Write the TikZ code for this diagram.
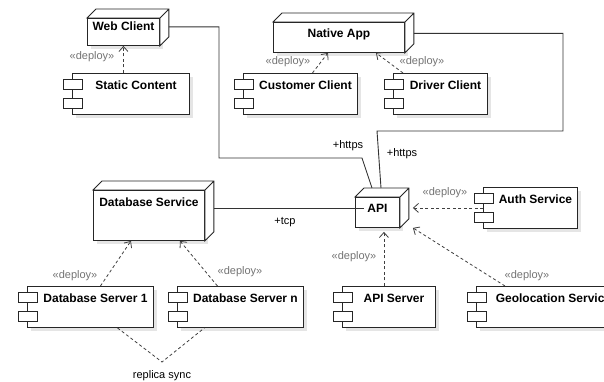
\documentclass[tikz,border=0pt]{standalone}
\usepackage{fontspec}
\setmainfont{Liberation Sans}
\usetikzlibrary{arrows.meta,shadows}

\begin{document}
\begin{tikzpicture}
[x=1pt,y=1pt,line join=miter,
every node/.style={font=\fontsize{11}{13}\selectfont},
device/.style={shape=rectangle,draw=black!85,line width=0.9pt,fill=white,inner sep=0pt,anchor=north west,
	text height=15pt,text depth=15pt,font=\fontsize{12}{14}\selectfont\bfseries,
	drop shadow={shadow xshift=4pt,shadow yshift=-4pt,fill=black!10,opacity=1}},
comp/.style={device,minimum height=41pt,text height=16pt,text depth=25pt,execute at begin node={\hspace*{10pt}}},
tab/.style={draw=black!85,line width=0.9pt,fill=white},
link/.style={draw=black!80,line width=0.9pt},
dep/.style={draw=black!75,dash pattern=on 3pt off 2.5pt,line width=0.8pt,-{Straight Barb[length=5pt,width=9pt]}},
stereo/.style={text=black!55}]

\clip (0,0) rectangle (604,382);

\node[device,minimum width=72pt,text height=12pt] (web) at (87,364) {Web Client};
\node[device,minimum width=131pt] (native) at (273,360) {Native App};
\node[device,minimum width=111pt,text height=16pt,text depth=34pt] (dbs) at (93,192) {Database Service};
\node[device,minimum width=44pt] (api) at (355,185) {API};

\node[comp,minimum width=117pt] (static) at (72,309) {Static Content};
\node[comp,minimum width=114pt] (customer) at (243,309) {Customer Client};
\node[comp,minimum width=94pt] (driver) at (393,309) {Driver Client};
\node[comp,minimum width=94pt] (auth) at (483,195) {Auth Service};
\node[comp,minimum width=126pt] (dbsone) at (27,96) {Database Server 1};
\node[comp,minimum width=126pt] (dbsn) at (177,96) {Database Server n};
\node[comp,minimum width=93pt] (apisrv) at (342,96) {API Server};
\node[comp,minimum width=144pt] (geo) at (476,96) {Geolocation Service};

\foreach \n in {static,customer,driver,auth,dbsone,dbsn,apisrv,geo} {
	\draw[tab] ([shift={(-9,-6)}]\n.north west) rectangle ++(19,-10);
	\draw[tab] ([shift={(-9,-25)}]\n.north west) rectangle ++(19,-10);
}
\foreach \n in {web,native,dbs,api} {
	\draw[tab] (\n.north west) -- ++(9,9) -- ([shift={(9,9)}]\n.north east) -- ([shift={(9,9)}]\n.south east)
		-- (\n.south east) -- (\n.north east) -- cycle (\n.north east) -- ++(9,9);
}

\draw[link] ([shift={(9,5)}]web.east) -| (219,224) -- (362,224) -- ([shift={(17,9)}]api.north west);
\node (httpsweb) at (348,236) {+https};
\draw[link] ([shift={(9,4)}]native.east) -| (563,251) -- (377,251) -- ([shift={(26,9)}]api.north west);
\node (httpsapp) at (402,228) {+https};
\draw[link] ([shift={(9,7)}]dbs.east) -- ([shift={(9,7)}]dbs.east -| api.west);
\node (tcp) at (285,160) {+tcp};

\draw[dep] (static.north -| web.south) -- (web.south);
\node[stereo] (depweb) at (92,325) {«deploy»};
\draw[dep] ([xshift=12]customer.north) -- ([xshift=-11]native.south);
\node[stereo] (depcustomer) at (288,320) {«deploy»};
\draw[dep] ([xshift=10]driver.north west) -- ([xshift=37]native.south);
\node[stereo] (depdriver) at (422,320) {«deploy»};
\draw[dep] ([xshift=10]dbsone.north) -- ([xshift=-18]dbs.south);
\node[stereo] (depdbsone) at (75,106) {«deploy»};
\draw[dep] ([xshift=-23]dbsn.north) -- ([xshift=31]dbs.south);
\node[stereo] (depdbsn) at (240,110) {«deploy»};
\draw[dep] (auth.west) -- ([xshift=13]api.east |- auth.west);
\node[stereo] (depauth) at (445,189) {«deploy»};
\draw[dep] ([xshift=-5]apisrv.north) -- ([xshift=-5,yshift=-4]apisrv.north |- api.south);
\node[stereo] (depapisrv) at (354,125) {«deploy»};
\draw[dep] ([xshift=29]geo.north west) -- ([xshift=13]api.south east);
\node[stereo] (depgeo) at (527,106) {«deploy»};

\coordinate (sync) at (162,20);
\draw[dep,-] ([xshift=27]dbsone.south) -- (sync) -- ([xshift=-36]dbsn.south);
\node (replica) at (162,6) {replica sync};
\end{tikzpicture}
\end{document}
